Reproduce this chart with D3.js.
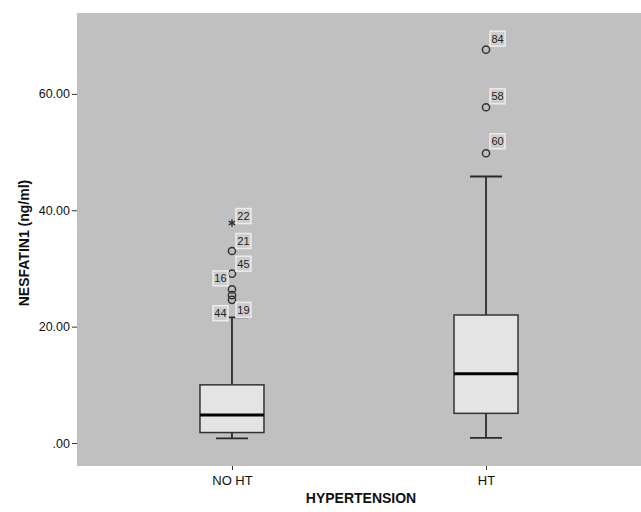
<!DOCTYPE html>
<html lang="en">
<head>
<meta charset="utf-8">
<title>NESFATIN1 by hypertension</title>
<script src="https://d3js.org/d3.v7.min.js"></script>
<style>
body { margin: 0; background: #fff; }
text { font-family: "Liberation Sans", Arial, sans-serif; }
</style>
</head>
<body>
<div id="chart"></div>
<script>
// groups and box summaries
var groups = ["NO HT", "HT"];
var q1 = [1.8, 5.1];
var medians = [4.8, 11.9];
var q3 = [10.0, 22.0];
var whiskerLow = [0.8, 0.9];
var whiskerHigh = [21.6, 45.8];

// outliers (case numbers as labels)
var outGroup = ["NO HT", "NO HT", "NO HT", "NO HT", "NO HT", "NO HT", "HT", "HT", "HT"];
var outValue = [37.8, 33.0, 29.1, 26.4, 25.4, 24.6, 67.6, 57.7, 49.8];
var outId    = ["22", "21", "45", "16", "44", "19", "84", "58", "60"];
var outKind  = ["star", "circle", "circle", "circle", "circle", "circle", "circle", "circle", "circle"];

var yTicks = [0, 20, 40, 60];

// label placement (side, vertical shift in px) -- just style
var labelSide = {"22": "r", "21": "r", "45": "r", "16": "l", "44": "l", "19": "r", "84": "r", "58": "r", "60": "r"};
var labelDy   = {"22": -7, "21": -10, "45": -10, "16": -11, "44": 18, "19": 10, "84": -11, "58": -11, "60": -12};

var W = 641, H = 512;
var margin = {top: 13, right: 0, bottom: 46, left: 77};

var svg = d3.select("#chart").append("svg")
  .attr("width", W).attr("height", H);

var y = d3.scaleLinear()
  .domain([-3.95, 73.9])
  .range([H - margin.bottom, margin.top]);

var x = d3.scalePoint()
  .domain(groups)
  .range([margin.left, W - margin.right])
  .padding(0.61);

// plot background
svg.append("rect")
  .attr("x", margin.left).attr("y", margin.top)
  .attr("width", W - margin.left - margin.right)
  .attr("height", H - margin.top - margin.bottom)
  .attr("fill", "#c0c0c0");

// axes
var yAxis = svg.append("g")
  .attr("transform", "translate(" + margin.left + ",0)")
  .call(d3.axisLeft(y).tickValues(yTicks).tickSize(5).tickPadding(2)
    .tickFormat(function(d){ return d === 0 ? ".00" : d3.format(".2f")(d); }));
yAxis.select(".domain").remove();
yAxis.selectAll("text").attr("font-size", 12.5).attr("fill", "#111");
yAxis.selectAll("line").attr("stroke", "#333");

var xAxis = svg.append("g")
  .attr("transform", "translate(0," + (H - margin.bottom) + ")")
  .call(d3.axisBottom(x).tickSize(4).tickPadding(6));
xAxis.select(".domain").remove();
xAxis.selectAll("text").attr("font-size", 13).attr("fill", "#111");
xAxis.selectAll("line").attr("stroke", "#333");

// axis titles
svg.append("text")
  .attr("x", (margin.left + W - margin.right) / 2 + 2)
  .attr("y", 503)
  .attr("text-anchor", "middle")
  .attr("font-size", 14).attr("font-weight", "bold")
  .attr("fill", "#111")
  .text("HYPERTENSION");

svg.append("text")
  .attr("transform", "translate(29,243) rotate(-90)")
  .attr("text-anchor", "middle")
  .attr("font-size", 14).attr("font-weight", "bold")
  .attr("fill", "#111")
  .text("NESFATIN1 (ng/ml)");

// boxes
var boxW = 64, capW = 32;
var boxData = groups.map(function(g, i) {
  return {g: g, q1: q1[i], med: medians[i], q3: q3[i], lo: whiskerLow[i], hi: whiskerHigh[i]};
});

var box = svg.selectAll(".box").data(boxData).enter().append("g").attr("class", "box");

box.append("line")
  .attr("x1", function(d){ return x(d.g); }).attr("x2", function(d){ return x(d.g); })
  .attr("y1", function(d){ return y(d.hi); }).attr("y2", function(d){ return y(d.q3); })
  .attr("stroke", "#2a2a2a").attr("stroke-width", 1.8);
box.append("line")
  .attr("x1", function(d){ return x(d.g); }).attr("x2", function(d){ return x(d.g); })
  .attr("y1", function(d){ return y(d.q1); }).attr("y2", function(d){ return y(d.lo); })
  .attr("stroke", "#2a2a2a").attr("stroke-width", 1.8);
box.selectAll(".cap").data(function(d){ return [[d.g, d.hi], [d.g, d.lo]]; })
  .enter().append("line")
  .attr("x1", function(d){ return x(d[0]) - capW / 2; })
  .attr("x2", function(d){ return x(d[0]) + capW / 2; })
  .attr("y1", function(d){ return y(d[1]); }).attr("y2", function(d){ return y(d[1]); })
  .attr("stroke", "#2a2a2a").attr("stroke-width", 1.8);
box.append("rect")
  .attr("x", function(d){ return x(d.g) - boxW / 2; })
  .attr("y", function(d){ return y(d.q3); })
  .attr("width", boxW)
  .attr("height", function(d){ return y(d.q1) - y(d.q3); })
  .attr("fill", "#e4e4e4").attr("stroke", "#333").attr("stroke-width", 1.5);
box.append("line")
  .attr("x1", function(d){ return x(d.g) - boxW / 2; })
  .attr("x2", function(d){ return x(d.g) + boxW / 2; })
  .attr("y1", function(d){ return y(d.med); }).attr("y2", function(d){ return y(d.med); })
  .attr("stroke", "#000").attr("stroke-width", 3);

// outliers
var outs = outValue.map(function(v, i) {
  return {g: outGroup[i], v: v, id: outId[i], kind: outKind[i]};
});

svg.selectAll(".outc").data(outs.filter(function(d){ return d.kind === "circle"; }))
  .enter().append("circle")
  .attr("cx", function(d){ return x(d.g); })
  .attr("cy", function(d){ return y(d.v); })
  .attr("r", 3.6)
  .attr("fill", "none").attr("stroke", "#333").attr("stroke-width", 1.5);

svg.selectAll(".outs").data(outs.filter(function(d){ return d.kind === "star"; }))
  .enter().append("path")
  .attr("transform", function(d){ return "translate(" + x(d.g) + "," + y(d.v) + ")"; })
  .attr("d", d3.symbol().type(d3.symbolAsterisk).size(40))
  .attr("stroke", "#333").attr("stroke-width", 1.4).attr("fill", "none");

// case labels
var lab = svg.selectAll(".lab").data(outs).enter().append("g")
  .attr("transform", function(d) {
    var side = labelSide[d.id];
    var lx = side === "r" ? x(d.g) + 4 : x(d.g) - 19;
    return "translate(" + lx + "," + (y(d.v) + labelDy[d.id]) + ")";
  });
lab.append("rect")
  .attr("x", 0).attr("y", -7.5).attr("width", 15).attr("height", 15)
  .attr("fill", "#cdcdcd").attr("stroke", "#ececec").attr("stroke-width", 1.5);
lab.append("text")
  .attr("x", 7.5).attr("y", 4)
  .attr("text-anchor", "middle")
  .attr("font-size", 11).attr("fill", "#222")
  .text(function(d){ return d.id; });
</script>
</body>
</html>
